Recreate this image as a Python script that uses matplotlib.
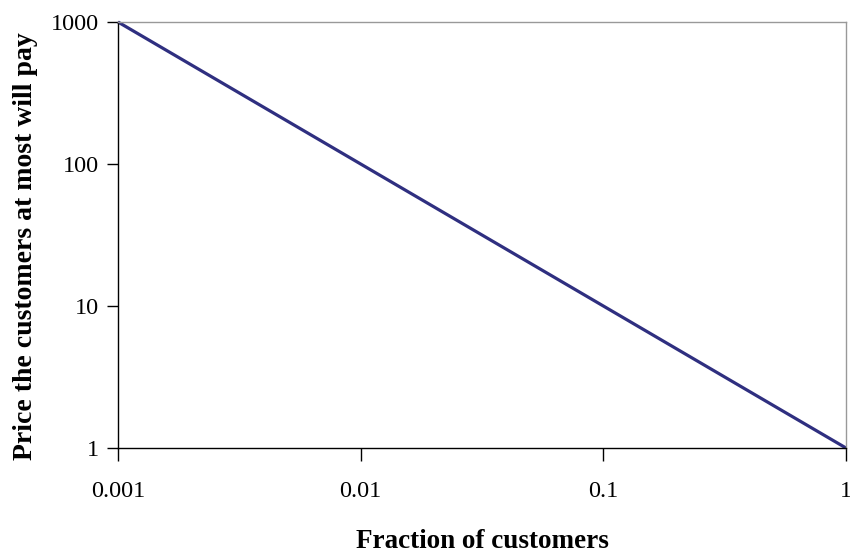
import matplotlib.pyplot as plt
from matplotlib.ticker import FixedLocator, NullLocator

fraction = [0.001, 0.01, 0.1, 1]
price = [1000, 100, 10, 1]
x_ticks = [0.001, 0.01, 0.1, 1]
x_labels = ["0.001", "0.01", "0.1", "1"]
y_ticks = [1, 10, 100, 1000]
y_labels = ["1", "10", "100", "1000"]

plt.rcParams['font.family'] = ['Liberation Serif', 'DejaVu Serif']

fig = plt.figure(figsize=(8.5, 5.53), dpi=100)
ax = fig.add_axes([118 / 850, 1 - 448 / 553, 728 / 850, 426 / 553])

ax.plot(fraction, price, color='#2F2F80', linewidth=2.3, solid_capstyle='butt',
        clip_on=False)
ax.set_xscale('log')
ax.set_yscale('log')
ax.set_xlim(0.001, 1)
ax.set_ylim(1, 1000)

ax.xaxis.set_major_locator(FixedLocator(x_ticks))
ax.yaxis.set_major_locator(FixedLocator(y_ticks))
ax.xaxis.set_minor_locator(NullLocator())
ax.yaxis.set_minor_locator(NullLocator())
ax.set_xticklabels(x_labels)
ax.set_yticklabels(y_labels)
ax.tick_params(axis='x', direction='out', length=9, width=1, labelsize=17.5, pad=15)
ax.tick_params(axis='y', direction='out', length=8, width=1, labelsize=17.5, pad=6)

for side in ['left', 'bottom']:
    ax.spines[side].set_color('black')
    ax.spines[side].set_linewidth(1)
for side in ['top', 'right']:
    ax.spines[side].set_color('#999999')
    ax.spines[side].set_linewidth(1)

ax.set_xlabel("Fraction of customers", fontsize=19.5, fontweight='bold', labelpad=19)
ax.set_ylabel("Price the customers at most will pay", fontsize=20, fontweight='bold',
              labelpad=9)
ax.yaxis.label.set_y(0.475)

fig.savefig("out.png", dpi=100)
